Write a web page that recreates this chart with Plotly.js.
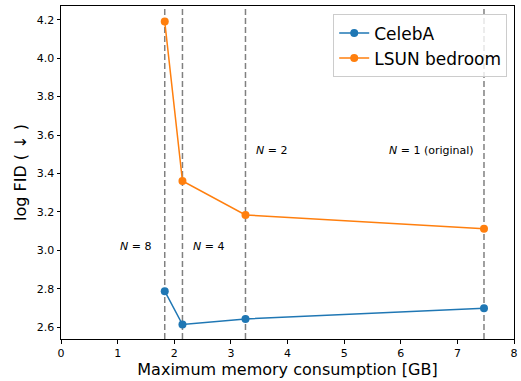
<!DOCTYPE html>
<html><head><meta charset="utf-8">
<script src="https://cdn.plot.ly/plotly-3.0.1.min.js"></script>
<style>html,body{margin:0;padding:0;background:#fff}#c{width:521px;height:381px}</style>
</head><body><div id="c"></div>
<script>
const memory = [1.832, 2.145, 3.258, 7.47];
const celebA = [2.788, 2.614, 2.643, 2.699];
const lsun = [4.19, 3.361, 3.184, 3.112];
const nLabels = ['N = 8', 'N = 4', 'N = 2', 'N = 1 (original)'];
const labelX = [1.63, 2.30, 3.40, 7.32];
const labelY = [3.02, 3.02, 3.52, 3.52];
const labelSide = ['right', 'left', 'left', 'right'];

const f = 'DejaVu Sans, sans-serif';
const traces = [
  {x: memory, y: celebA, name: 'CelebA', mode: 'lines+markers',
   line: {color: '#1f77b4', width: 1.5}, marker: {color: '#1f77b4', size: 8}},
  {x: memory, y: lsun, name: 'LSUN bedroom', mode: 'lines+markers',
   line: {color: '#ff7f0e', width: 1.5}, marker: {color: '#ff7f0e', size: 8}}
];
const shapes = memory.map(m => ({type: 'line', xref: 'x', yref: 'paper', x0: m, x1: m, y0: 0, y1: 1,
  line: {color: '#808080', width: 1.5, dash: '6px,3px'}, layer: 'below'}));
const annotations = nLabels.map((t, i) => {
  const parts = t.split(' = ');
  return {x: labelX[i], y: labelY[i], xref: 'x', yref: 'y', showarrow: false,
    text: '<i>' + parts[0] + '</i> = ' + parts[1], xanchor: labelSide[i], yanchor: 'middle',
    font: {family: f, size: 11, color: '#000'}};
});
const axis = {showgrid: false, zeroline: false, showline: true, mirror: true, linecolor: '#000', linewidth: 1,
  ticks: 'outside', ticklen: 3.5, tickwidth: 1, tickcolor: '#000', tickfont: {family: f, size: 11, color: '#000'}};
const layout = {
  width: 521, height: 381, margin: {l: 61, r: 7, t: 6, b: 42},
  paper_bgcolor: '#fff', plot_bgcolor: '#fff',
  xaxis: Object.assign({}, axis, {range: [0, 8], dtick: 1,
    title: {text: 'Maximum memory consumption [GB]', font: {family: f, size: 16, color: '#000'}, standoff: 3}}),
  yaxis: Object.assign({}, axis, {range: [2.539, 4.271], dtick: 0.2, tickformat: '.1f',
    title: {text: 'log FID ( ↓ )', font: {family: f, size: 16, color: '#000'}, standoff: 6}}),
  showlegend: true,
  legend: {x: 0.985, y: 0.975, xanchor: 'right', yanchor: 'top', bgcolor: 'rgba(255,255,255,0.8)',
    bordercolor: '#cccccc', borderwidth: 1, font: {family: f, size: 17, color: '#000'}},
  shapes: shapes, annotations: annotations
};
Plotly.newPlot('c', traces, layout, {displayModeBar: false, staticPlot: true});
</script></body></html>
